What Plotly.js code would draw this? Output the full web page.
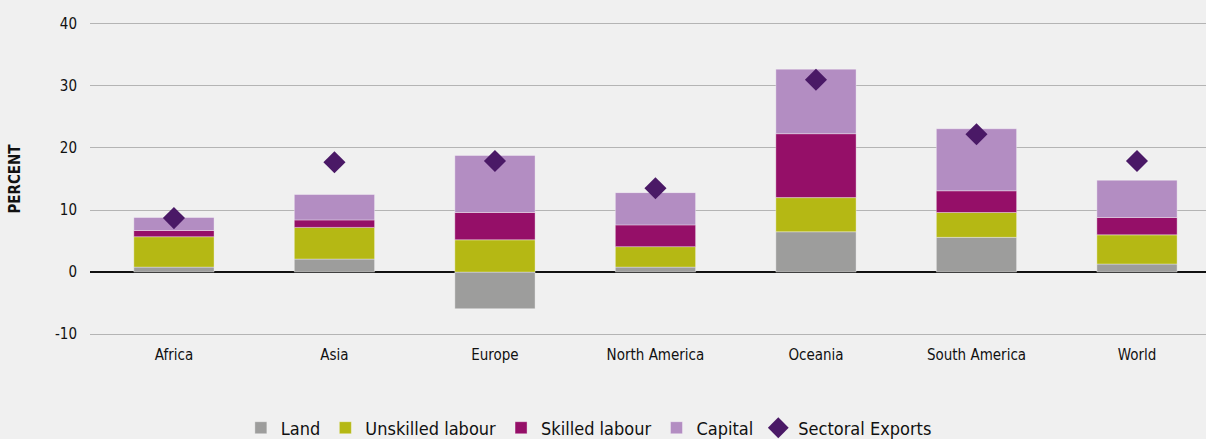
<!DOCTYPE html>
<html>
<head>
<meta charset="utf-8">
<script src="https://cdn.plot.ly/plotly-3.0.1.min.js"></script>
<style>
html,body{margin:0;padding:0;background:#f0f0f0;}
#chart{width:1206px;height:439px;}
</style>
</head>
<body>
<div id="chart"></div>
<script>
const regions = ["Africa", "Asia", "Europe", "North America", "Oceania", "South America", "World"];
const land = [0.8, 2.1, -5.9, 0.8, 6.5, 5.6, 1.3];
const unskilledLabour = [4.9, 5.1, 5.2, 3.3, 5.5, 4.0, 4.7];
const skilledLabour = [1.0, 1.2, 4.4, 3.5, 10.3, 3.5, 2.8];
const capital = [2.1, 4.1, 9.2, 5.2, 10.4, 10.0, 6.0];
const sectoralExports = [8.7, 17.7, 17.9, 13.5, 31.0, 22.2, 17.9];
const yTicks = [-10, 0, 10, 20, 30, 40];

const FONT = "'DejaVu Sans Condensed', 'Liberation Sans Narrow', sans-serif";
const barLine = {color: "rgba(255,255,255,0.35)", width: 1};

function barTrace(name, y, color) {
  return {type: "bar", name: name, x: regions, y: y, width: 0.5,
          marker: {color: color, line: barLine}, hoverinfo: "y+name"};
}

const traces = [
  barTrace("Land", land, "#9d9d9c"),
  barTrace("Unskilled labour", unskilledLabour, "#b5b814"),
  barTrace("Skilled labour", skilledLabour, "#950f68"),
  barTrace("Capital", capital, "#b38dc2"),
  {type: "scatter", mode: "markers", name: "Sectoral Exports", x: regions, y: sectoralExports,
   marker: {symbol: "diamond", size: 17, color: "#4a1966"}}
];

const layout = {
  width: 1206, height: 439,
  paper_bgcolor: "#f0f0f0", plot_bgcolor: "#f0f0f0",
  margin: {l: 90, r: 0, t: 22.1, b: 102.6, autoexpand: false},
  barmode: "relative",
  font: {family: FONT, size: 15, color: "#111"},
  showlegend: true,
  legend: {orientation: "h", x: 0.447, xanchor: "center", yref: "container", y: 0.025, yanchor: "middle",
           font: {family: FONT, size: 18, color: "#111"}, itemwidth: 30, traceorder: "normal",
           bgcolor: "rgba(0,0,0,0)"},
  xaxis: {range: [-0.523, 6.43], showgrid: false, zeroline: false, showline: false, automargin: false,
          tickfont: {family: FONT, size: 15, color: "#111"}, ticks: "", ticklabelstandoff: 8, fixedrange: true},
  yaxis: {range: [-10.3, 40.3], tickvals: yTicks, ticktext: yTicks.map(String), automargin: false,
          showgrid: true, gridcolor: "#b4b4b4", gridwidth: 1,
          zeroline: true, zerolinecolor: "#111", zerolinewidth: 2,
          showline: false, ticks: "", ticklabelstandoff: 12,
          tickfont: {family: FONT, size: 15, color: "#111"},
          title: {text: "<b>PERCENT</b>", font: {family: FONT, size: 15, color: "#111"}, standoff: 30}},
};

Plotly.newPlot("chart", traces, layout, {displayModeBar: false, staticPlot: true});
</script>
</body>
</html>
